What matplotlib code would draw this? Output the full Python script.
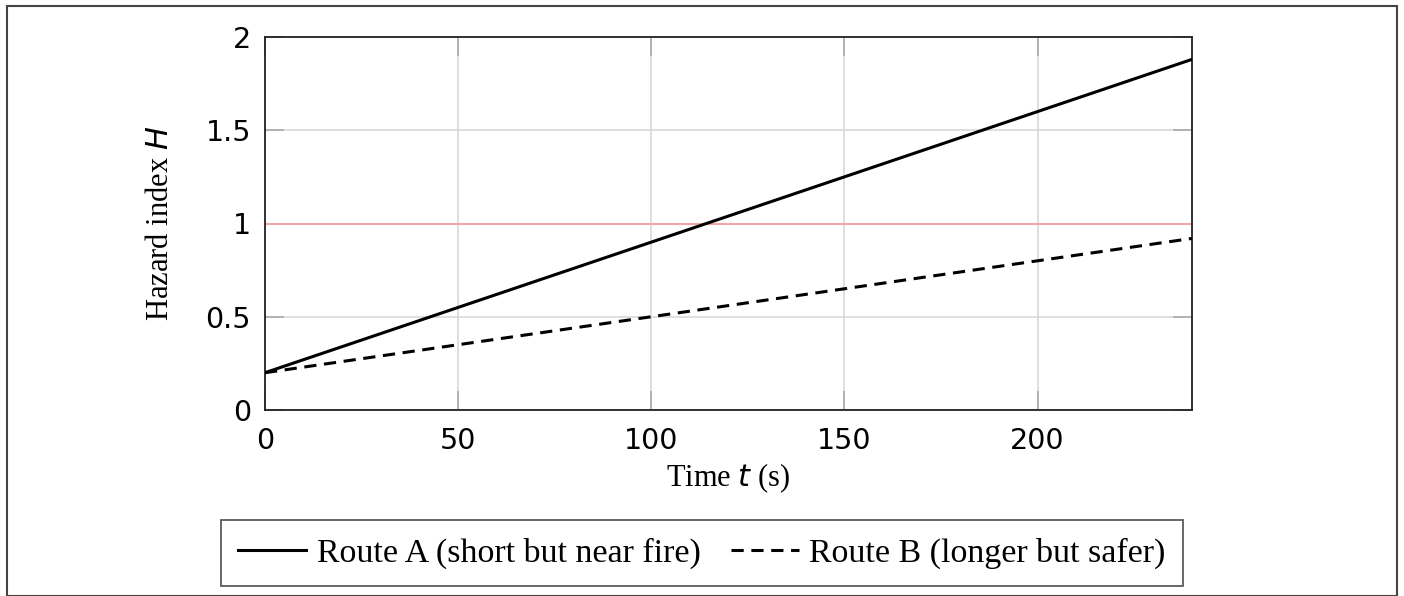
import numpy as np
import matplotlib
matplotlib.use("Agg")
import matplotlib.pyplot as plt
from matplotlib.patches import Rectangle

# data
t_s = [0, 60, 120, 180, 240]
route_a = [0.20, 0.62, 1.04, 1.46, 1.88]
route_b = [0.20, 0.38, 0.56, 0.74, 0.92]
threshold = 1.0
labels = ["Route A (short but near fire)", "Route B (longer but safer)"]
x_ticks = [0, 50, 100, 150, 200]
y_ticks = [0, 0.5, 1, 1.5, 2]
y_tick_labels = ["0", "0.5", "1", "1.5", "2"]

serif = ["Liberation Serif", "DejaVu Serif"]
plt.rcParams["mathtext.fontset"] = "dejavusans"

fig = plt.figure(figsize=(14.04, 5.96), dpi=100)
ax = fig.add_axes([265 / 1404, 1 - 410 / 596, (1192 - 265) / 1404, (410 - 37) / 596])

ax.grid(True, color="#d9d9d9", linewidth=1.2)
ax.set_axisbelow(True)
ax.axhline(threshold, color="#f4a6a6", linewidth=1.5, zorder=2)

la, = ax.plot(t_s, route_a, color="black", linewidth=2.2, zorder=3)
lb, = ax.plot(t_s, route_b, color="black", linewidth=2.2, linestyle=(0, (4, 2.5)), zorder=3)

ax.set_xlim(0, 240)
ax.set_ylim(0, 2)
ax.set_xticks(x_ticks)
ax.set_yticks(y_ticks)
ax.set_yticklabels(y_tick_labels)
ax.tick_params(direction="in", length=14, width=1.2, color="#aaaaaa",
               top=True, right=True, labelsize=20.5)
ax.tick_params(axis="x", pad=12)
ax.tick_params(axis="y", pad=10)
for lab in ax.get_xticklabels() + ax.get_yticklabels():
    lab.set_family("DejaVu Sans")
for sp in ax.spines.values():
    sp.set_linewidth(1.3)
    sp.set_color("#222222")

ax.set_xlabel(r"Time $t$ (s)", fontsize=22, family=serif, labelpad=5)
ax.set_ylabel(r"Hazard index $H$", fontsize=22, family=serif, labelpad=22)

leg = fig.legend([la, lb], labels, loc="center", bbox_to_anchor=(702 / 1404, 1 - 553 / 596),
                 ncol=2, frameon=True, fancybox=False, edgecolor="#333333",
                 prop={"family": serif, "size": 24.5}, handlelength=2.0, handletextpad=0.3,
                 columnspacing=0.9, borderpad=0.5)
leg.get_frame().set_linewidth(1.3)

fig.patches.append(Rectangle((7 / 1404, 0.0), (1397 - 7) / 1404, 1 - 6 / 596,
                             transform=fig.transFigure, fill=False,
                             edgecolor="#444444", linewidth=1.5))

fig.savefig("out.png", dpi=100)
